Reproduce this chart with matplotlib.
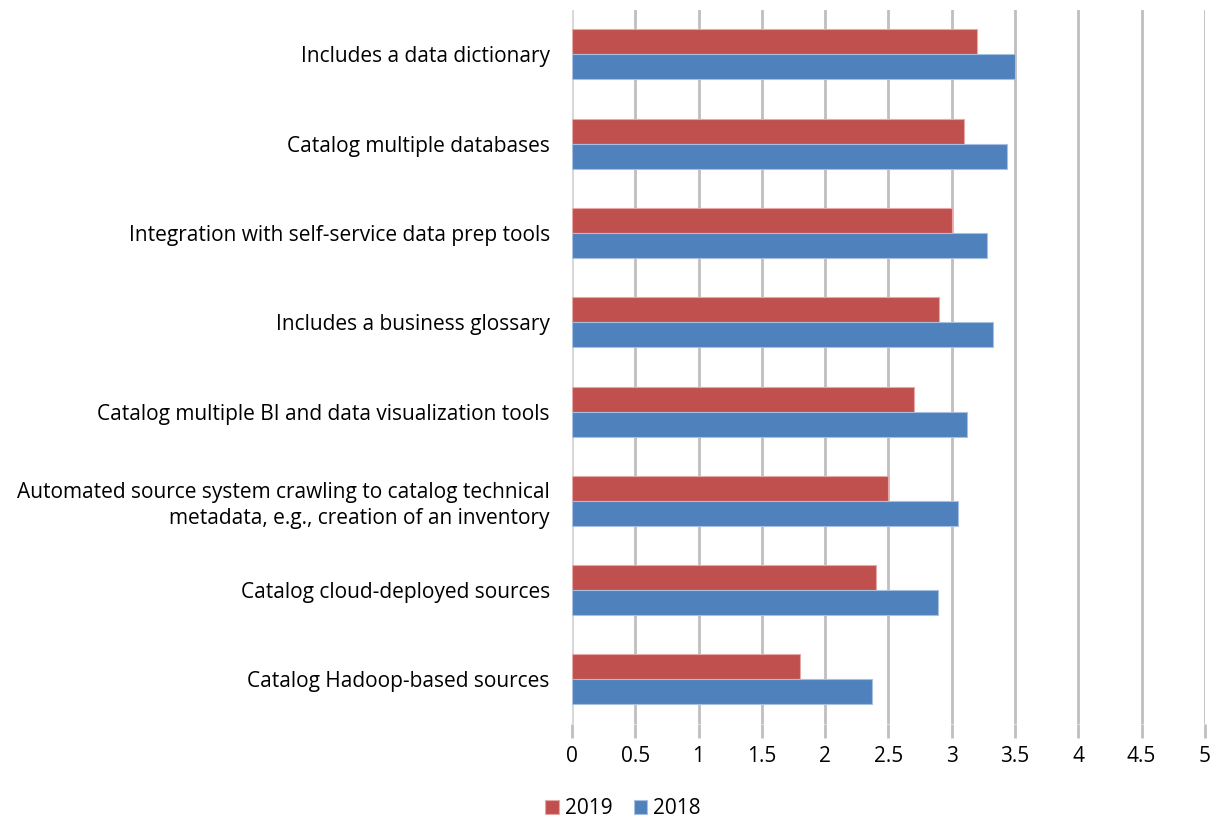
import matplotlib
matplotlib.use("Agg")
import matplotlib.pyplot as plt
import numpy as np

categories = [
    "Includes a data dictionary",
    "Catalog multiple databases",
    "Integration with self-service data prep tools",
    "Includes a business glossary",
    "Catalog multiple BI and data visualization tools",
    "Automated source system crawling to catalog technical\nmetadata, e.g., creation of an inventory",
    "Catalog cloud-deployed sources",
    "Catalog Hadoop-based sources",
]
values_2019 = [3.20, 3.10, 3.00, 2.90, 2.70, 2.50, 2.40, 1.80]
values_2018 = [3.50, 3.44, 3.28, 3.33, 3.12, 3.05, 2.89, 2.37]
x_ticks = [0, 0.5, 1, 1.5, 2, 2.5, 3, 3.5, 4, 4.5, 5]
x_tick_labels = ["0", "0.5", "1", "1.5", "2", "2.5", "3", "3.5", "4", "4.5", "5"]

plt.rcParams["font.family"] = ["Open Sans", "DejaVu Sans"]

fig = plt.figure(figsize=(12.17, 8.21), dpi=100)
ax = fig.add_axes([0.470, 0.118, 0.520, 0.870])

pos = np.arange(len(categories))
h = 0.28
red = "#C0504D"
blue = "#4F81BD"
ax.barh(pos - h / 2, values_2019, height=h, color=red, edgecolor="#E6A8A6",
        linewidth=0.8, label="2019", zorder=3)
ax.barh(pos + h / 2, values_2018, height=h, color=blue, edgecolor="#A7C0E0",
        linewidth=0.8, label="2018", zorder=3)

fs = 15
ax.set_xlim(0, 5)
ax.set_ylim(len(categories) - 0.5, -0.5)
ax.set_xticks(x_ticks)
ax.set_xticklabels(x_tick_labels, fontsize=fs)
ax.set_yticks(pos)
ax.set_yticklabels(categories, fontsize=fs, linespacing=1.3)
ax.tick_params(axis="y", length=0, pad=16)
ax.tick_params(axis="x", length=10, width=2, color="#BFBFBF", pad=6)

ax.xaxis.grid(True, color="#BFBFBF", linewidth=2, zorder=0)
ax.set_axisbelow(True)
for s in ax.spines.values():
    s.set_visible(False)
ax.axvline(0, color="#D9D9D9", linewidth=2, zorder=1)

leg = fig.legend(loc="center", bbox_to_anchor=(0.512, 0.015), ncol=2,
                 frameon=False, fontsize=fs, handlelength=0.65,
                 handleheight=0.65, handletextpad=0.3, columnspacing=1.0)

fig.savefig("out.png", dpi=100)
